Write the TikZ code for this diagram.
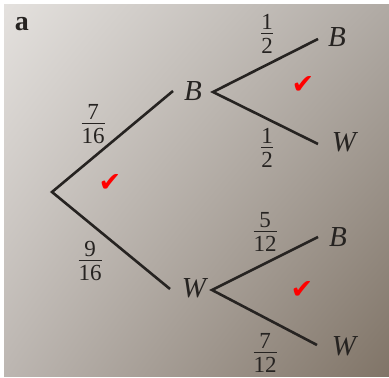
\documentclass[tikz,border=0pt]{standalone}
\usepackage{fontspec}
\usetikzlibrary{shadings}
\setmainfont{Liberation Serif}
\newfontfamily\symfont{DejaVu Sans}
\newcommand{\fr}[2]{%
  \vbox{\offinterlineskip\halign{\hfil##\hfil\cr
    \hbox{#1}\cr
    \noalign{\kern3pt}
    \noalign{\hrule height 1.1pt}
    \noalign{\kern4pt}
    \hbox{#2}\cr}}}
\definecolor{ink}{RGB}{38,35,33}
\definecolor{tl}{RGB}{228,225,222}
\definecolor{tr}{RGB}{176,170,164}
\definecolor{bl}{RGB}{188,182,177}
\definecolor{br}{RGB}{128,116,103}
\tikzset{
  branch/.style={draw=ink, line width=2.6pt, line join=miter},
  lbl/.style={text=ink, font=\fontsize{29}{32}\selectfont\itshape, inner sep=0pt},
  prob/.style={text=ink, font=\fontsize{23}{26}\selectfont, inner sep=0pt},
  tick/.style={text=red, font=\symfont\fontsize{27}{29}\selectfont, inner sep=0pt},
}
\begin{document}
\begin{tikzpicture}[x=1pt,y=1pt]
\useasboundingbox (0,0) rectangle (389,378);
\fill[white] (0,0) rectangle (389,378);
\shade[upper left=tl, upper right=tr, lower left=bl, lower right=br] (4,1) rectangle (389,373);
% part label
\node[text=ink, font=\fontsize{28}{30}\selectfont\bfseries, inner sep=0pt] (lab) at (22,354) {a};
% points
\coordinate (root) at (52,186);
\coordinate (b1end) at (173,287);
\coordinate (w1end) at (170,89);
\coordinate (f1) at (213,286);
\coordinate (f1b) at (318,339);
\coordinate (f1w) at (318,234);
\coordinate (f2) at (212,88);
\coordinate (f2b) at (318,141);
\coordinate (f2w) at (317,33);
% branches
\draw[branch] (b1end) -- (root) -- (w1end);
\draw[branch] (f1b) -- (f1) -- (f1w);
\draw[branch] (f2b) -- (f2) -- (f2w);
% outcome labels
\node[lbl] (B1) at (193,287) {B};
\node[lbl] (W1) at (194,90) {W};
\node[lbl] (BB) at (337,341) {B};
\node[lbl] (BW) at (344,236) {W};
\node[lbl] (WB) at (338,141) {B};
\node[lbl] (WW) at (344,32) {W};
% probabilities
\node[prob] (p1) at (93,254) {\fr{7}{16}};
\node[prob] (p2) at (90,117) {\fr{9}{16}};
\node[prob] (p3) at (267,344) {\fr{1}{2}};
\node[prob] (p4) at (267,230) {\fr{1}{2}};
\node[prob] (p5) at (265,146) {\fr{5}{12}};
\node[prob] (p6) at (265,25) {\fr{7}{12}};
% ticks
\node[tick] (t1) at (110,195) {✔};
\node[tick] (t2) at (303,293) {✔};
\node[tick] (t3) at (302,88) {✔};
\end{tikzpicture}
\end{document}
